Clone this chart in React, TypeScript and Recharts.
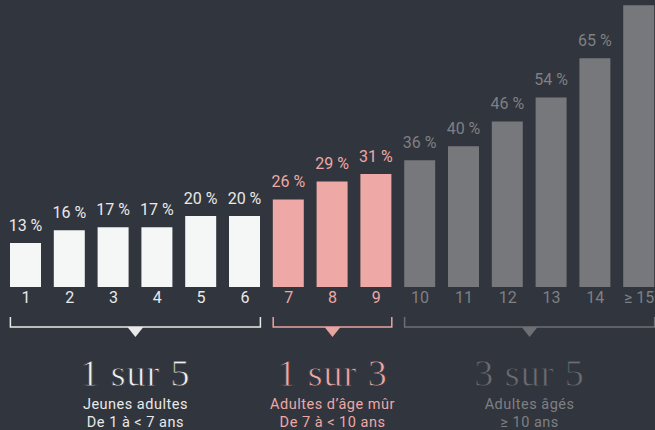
import React from 'react';
import { BarChart, Bar, XAxis, YAxis, Cell, LabelList } from 'recharts';

const AGES = ['1', '2', '3', '4', '5', '6', '7', '8', '9', '10', '11', '12', '13', '14', '≥ 15'];
const SHARES = [12.5, 16.1, 16.9, 16.9, 20.1, 20.1, 24.8, 29.9, 32.0, 35.9, 39.9, 46.9, 53.7, 64.8, 79.8];
// last bar runs off the top of the picture, its label is not visible
const SHARE_LABELS = ['13 %', '16 %', '17 %', '17 %', '20 %', '20 %', '26 %', '29 %', '31 %', '36 %', '40 %', '46 %', '54 %', '65 %', ''];
const GROUP_OF = [0, 0, 0, 0, 0, 0, 1, 1, 1, 2, 2, 2, 2, 2, 2];
const GROUP_RATIO = ['1 sur 5', '1 sur 3', '3 sur 5'];
const GROUP_NAME = ['Jeunes adultes', 'Adultes d’âge mûr', 'Adultes âgés'];
const GROUP_SPAN = ['De 1 à < 7 ans', 'De 7 à < 10 ans', '≥ 10 ans'];

const BG = '#31353d';
const BAR_FILL = ['#f5f7f6', '#eea8a5', '#77787c'];
const TEXT_FILL = ['#e8e9e9', '#eea8a5', '#7f8084'];
const BRACKET = ['#e8e9e9', '#e9a3a0', '#6e6f74'];
const RATIO_FILL = ['#f0f0f0', '#eea8a5', '#6b6c71'];

// layout
const W = 670;
const LEFT = 4;
const RIGHT = 9;
const BAND = (W - LEFT - RIGHT) / AGES.length;
const BAR_W = 31;
const TOP = -80;
const font = 'Roboto, "Noto Sans", sans-serif';

const data = AGES.map((age, i) => ({ age, share: SHARES[i], label: SHARE_LABELS[i] }));

const center = (i: number) => LEFT + BAND * (i + 0.5);

function AgeTick(props: any) {
  const { x, y, payload } = props;
  const g = GROUP_OF[payload.index];
  return (
    <text x={x} y={y} dy="0.71em" textAnchor="middle" fontSize={16} fontFamily={font} fill={TEXT_FILL[g]}>
      {payload.value}
    </text>
  );
}

function ShareLabel(props: any) {
  const { x, y, width, value, index } = props;
  if (!value) return null;
  const g = GROUP_OF[index] ?? 0;
  return (
    <text x={x + width / 2} y={y - 12} textAnchor="middle" fontSize={16} fontFamily={font} fill={TEXT_FILL[g]}>
      {value}
    </text>
  );
}

function Groups() {
  const groups = [0, 1, 2].map((g) => {
    const idx = GROUP_OF.map((v, i) => (v === g ? i : -1)).filter((i) => i >= 0);
    const x0 = center(idx[0]) - BAR_W / 2;
    const x1 = center(idx[idx.length - 1]) + BAR_W / 2;
    return { g, x0, x1, cx: (x0 + x1) / 2 };
  });
  return (
    <svg width={655} height={430} style={{ position: 'absolute', left: 0, top: 0 }}>
      {groups.map(({ g, x0, x1, cx }) => (
        <g key={g}>
          <path d={`M${x0},317 V327 H${x1} V317`} fill="none" stroke={BRACKET[g]} strokeWidth={1.5} />
          <path d={`M${cx - 8},327 L${cx + 8},327 L${cx},337 Z`} fill={BRACKET[g]} />
          {/* thin the serif face a little with a background-coloured outline */}
          <text
            x={cx}
            y={386}
            textAnchor="middle"
            fontSize={38}
            letterSpacing={1}
            fontFamily='"Liberation Serif", serif'
            fill={RATIO_FILL[g]}
            stroke={BG}
            strokeWidth={0.8}
          >
            {GROUP_RATIO[g]}
          </text>
          <text x={cx} y={409} textAnchor="middle" fontSize={14.5} letterSpacing={0.5} fontFamily={font} fill={TEXT_FILL[g]}>
            {GROUP_NAME[g]}
          </text>
          <text x={cx} y={427} textAnchor="middle" fontSize={14.5} letterSpacing={0.5} fontFamily={font} fill={TEXT_FILL[g]}>
            {GROUP_SPAN[g]}
          </text>
        </g>
      ))}
    </svg>
  );
}

export default function App() {
  return (
    <div style={{ position: 'fixed', left: 0, top: 0, width: 655, height: 430, overflow: 'hidden', background: BG }}>
      <div style={{ position: 'absolute', left: 0, top: TOP }}>
        <BarChart width={W} height={397} data={data} margin={{ top: 14, right: RIGHT, bottom: 0, left: LEFT }}>
          <XAxis
            dataKey="age"
            axisLine={false}
            tickLine={false}
            tickSize={0}
            tickMargin={5}
            height={30}
            interval={0}
            tick={<AgeTick />}
          />
          <YAxis hide domain={[0, 100]} />
          <Bar dataKey="share" barSize={BAR_W} isAnimationActive={false}>
            {data.map((_, i) => (
              <Cell key={i} fill={BAR_FILL[GROUP_OF[i]]} />
            ))}
            <LabelList dataKey="label" content={<ShareLabel />} />
          </Bar>
        </BarChart>
      </div>
      <Groups />
    </div>
  );
}
